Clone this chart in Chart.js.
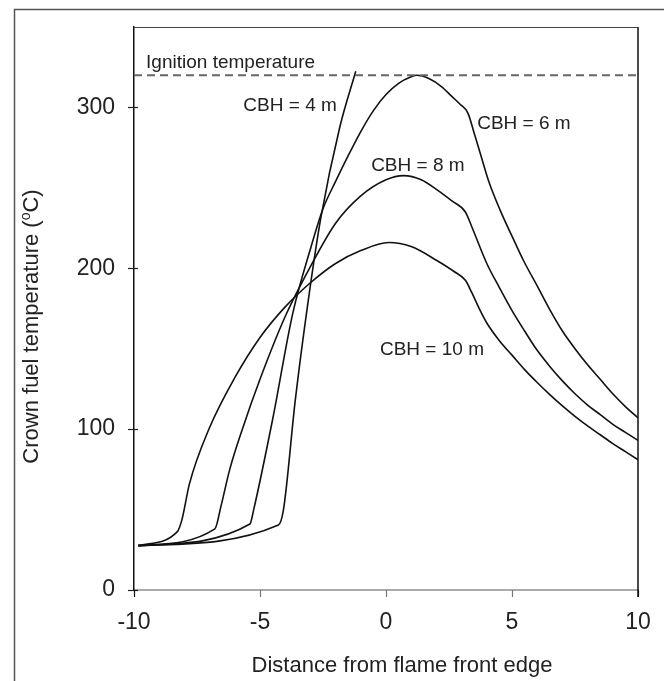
<!DOCTYPE html>
<html>
<head>
<meta charset="utf-8">
<script src="https://cdn.jsdelivr.net/npm/chart.js@4.4.1/dist/chart.umd.min.js"></script>
<style>
  html, body { margin: 0; padding: 0; background: #fff; }
  #wrap { width: 664px; height: 681px; }
</style>
</head>
<body>
<div id="wrap"><canvas id="grafico" width="664" height="681"></canvas></div>
<script>
// distance (x) and crown fuel temperature (y) for each curve
const cbh4X = [-9.83, -4.27, -4.07, -3.6, -3.08, -2.59, -1.83, -1.2];
const cbh4Y = [27.6, 40.4, 49.8, 118, 180.5, 231, 288, 322.5];

const cbh6X = [-9.83, -5.4, -5.25, -4.5, -3.7, -3.0, -2.5, -2.0, -1.5, -1.0, -0.5, 0, 0.5, 1.0, 1.22, 1.7, 2.2, 2.6, 2.94, 3.25, 3.5, 3.73, 4.1, 4.52, 5.0, 5.45, 6.0, 6.51, 7, 7.5, 8, 8.5, 9, 9.5, 10];
const cbh6Y = [27.6, 41, 50, 106, 172, 212, 237, 254, 270, 285, 298, 308, 315, 319, 320, 318, 313, 307, 302, 296.5, 284, 272, 253, 236.5, 220, 205, 189, 174, 161, 150, 140, 131, 122, 114, 107];

const cbh8X = [-9.83, -6.79, -6.55, -6.2, -5.7, -5.0, -4.0, -3.0, -2.0, -1.0, 0.0, 0.7, 1.4, 2.0, 2.6, 3.15, 3.4, 4.0, 4.5, 4.99, 5.5, 6, 6.5, 7, 7.5, 8, 8.5, 9, 9.5, 10];
const cbh8Y = [27.6, 38, 52, 75, 100, 131, 170, 201, 228, 245, 255, 257.6, 255, 249, 242, 235, 226, 203, 188, 174, 161, 149, 139, 130, 122, 115, 109, 103, 98, 93];

const cbh10X = [-9.83, -8.28, -8.1, -7.8, -7.0, -6.0, -5.0, -4.0, -3.0, -2.0, -1.0, 0.1, 1.0, 2.0, 2.7, 3.15, 3.4, 3.73, 4.0, 4.5, 5, 5.5, 6, 6.5, 7, 7.5, 8, 8.5, 9, 9.5, 10];
const cbh10Y = [27.6, 36.3, 43.6, 66, 101, 132, 157, 176, 191, 203, 211, 216, 213.5, 205, 198, 192.5, 185, 174, 166, 155, 146, 137, 129, 121.5, 114.5, 108, 102, 96.5, 91, 86, 81];

const ignitionTemp = 320;
const xTickValues = [-10, -5, 0, 5, 10];
const yTickValues = [0, 100, 200, 300];

function toPoints(xs, ys) {
  return xs.map((x, i) => ({ x: x, y: ys[i] }));
}

const fonte = '"Liberation Sans", Arial, sans-serif';
Chart.defaults.font.family = fonte;
Chart.defaults.color = '#222';

// text annotations, anchored in data units (left edge, baseline)
const rotulos = [
  { text: 'Ignition temperature', x: -9.52, y: 324.5 },
  { text: 'CBH = 4 m', x: -5.66, y: 297.6 },
  { text: 'CBH = 6 m', x: 3.62, y: 286.7 },
  { text: 'CBH = 8 m', x: -0.59, y: 260.7 },
  { text: 'CBH = 10 m', x: -0.24, y: 146.2 },
];

const moldura = {
  id: 'moldura',
  beforeDraw(chart) {
    const c = chart.ctx;
    c.save();
    c.fillStyle = '#fff';
    c.fillRect(0, 0, chart.width, chart.height);
    c.strokeStyle = '#555';
    c.lineWidth = 1.5;
    c.beginPath();
    c.moveTo(14.5, chart.height);
    c.lineTo(14.5, 9.5);
    c.lineTo(chart.width, 9.5);
    c.stroke();
    c.restore();
  },
  afterDraw(chart) {
    const { ctx: c, chartArea: a, scales } = chart;
    c.save();
    // borda de cima e da direita
    c.strokeStyle = '#444';
    c.lineWidth = 1.2;
    c.beginPath();
    c.moveTo(a.left, a.top + 0.5);
    c.lineTo(a.right, a.top + 0.5);
    c.stroke();
    c.strokeStyle = '#111';
    c.lineWidth = 1.5;
    c.beginPath();
    c.moveTo(a.right, a.top);
    c.lineTo(a.right, a.bottom + 7);
    c.stroke();
    // marcas do eixo y
    c.strokeStyle = '#222';
    c.lineWidth = 1.2;
    yTickValues.forEach(v => {
      const py = Math.round(scales.y.getPixelForValue(v)) + 0.5;
      c.beginPath();
      c.moveTo(a.left - 6, py);
      c.lineTo(a.left + 4, py);
      c.stroke();
    });
    // marcas do eixo x
    xTickValues.forEach(v => {
      const px = Math.round(scales.x.getPixelForValue(v)) + 0.5;
      c.strokeStyle = (v === -10 || v === 10) ? '#111' : '#777';
      c.beginPath();
      c.moveTo(px, a.bottom);
      c.lineTo(px, a.bottom + 7);
      c.stroke();
    });
    // textos dentro do gráfico
    c.font = '19px ' + fonte;
    c.fillStyle = '#222';
    c.textAlign = 'left';
    c.textBaseline = 'alphabetic';
    rotulos.forEach(r => {
      c.fillText(r.text, scales.x.getPixelForValue(r.x), scales.y.getPixelForValue(r.y));
    });
    // título do eixo x
    c.font = '22px ' + fonte;
    c.textAlign = 'center';
    c.fillText('Distance from flame front edge', (a.left + a.right) / 2 + 16, 672);
    // título do eixo y, com o "o" sobrescrito
    const t1 = 'Crown fuel temperature (', sup = 'o', t2 = 'C)';
    c.textAlign = 'left';
    c.font = '22px ' + fonte;
    const w1 = c.measureText(t1).width, w2 = c.measureText(t2).width;
    c.font = '14px ' + fonte;
    const ws = c.measureText(sup).width;
    const total = w1 + ws + w2;
    c.translate(38, (a.top + a.bottom) / 2 + 18);
    c.rotate(-Math.PI / 2);
    c.font = '22px ' + fonte;
    c.fillText(t1, -total / 2, 0);
    c.fillText(t2, -total / 2 + w1 + ws, 0);
    c.font = '14px ' + fonte;
    c.fillText(sup, -total / 2 + w1, -8);
    c.restore();
  }
};

// zera o recuo automático das escalas para a área do gráfico ficar exata
function semRecuo(scale) {
  scale.paddingTop = 0;
  scale.paddingBottom = 0;
  scale.paddingLeft = 0;
  scale.paddingRight = 0;
}

const curva = (label, xs, ys) => ({
  label: label,
  data: toPoints(xs, ys),
  borderColor: '#111',
  borderWidth: 1.6,
  pointRadius: 0,
  fill: false,
  cubicInterpolationMode: 'monotone',
});

const ctx = document.getElementById('grafico').getContext('2d');

const grafico = new Chart(ctx, {
  type: 'line',
  data: {
    datasets: [
      {
        label: 'Ignition temperature',
        data: [{ x: -10, y: ignitionTemp }, { x: 10, y: ignitionTemp }],
        borderColor: '#666',
        borderWidth: 2,
        borderDash: [8, 5],
        pointRadius: 0,
        fill: false,
      },
      curva('CBH = 4 m', cbh4X, cbh4Y),
      curva('CBH = 6 m', cbh6X, cbh6Y),
      curva('CBH = 8 m', cbh8X, cbh8Y),
      curva('CBH = 10 m', cbh10X, cbh10Y),
    ],
  },
  options: {
    responsive: false,
    animation: false,
    layout: { padding: { left: 14, top: 27, right: 26, bottom: 0 } },
    plugins: {
      legend: { display: false },
      tooltip: { enabled: false },
    },
    scales: {
      x: {
        type: 'linear',
        min: -10,
        max: 10,
        grid: { display: false, drawTicks: false },
        border: { display: true, color: '#aaa', width: 2 },
        ticks: { stepSize: 5, padding: 19, font: { size: 23 }, color: '#222' },
        afterFit(scale) { scale.height = 91; semRecuo(scale); },
      },
      y: {
        type: 'linear',
        min: 0,
        max: 350,
        grid: { display: false, drawTicks: false },
        border: { display: true, color: '#111', width: 1.5 },
        ticks: { stepSize: 100, includeBounds: false, padding: 19, font: { size: 23 }, color: '#222' },
        afterFit(scale) { scale.width = 120; semRecuo(scale); },
      },
    },
  },
  plugins: [moldura],
});
</script>
</body>
</html>
